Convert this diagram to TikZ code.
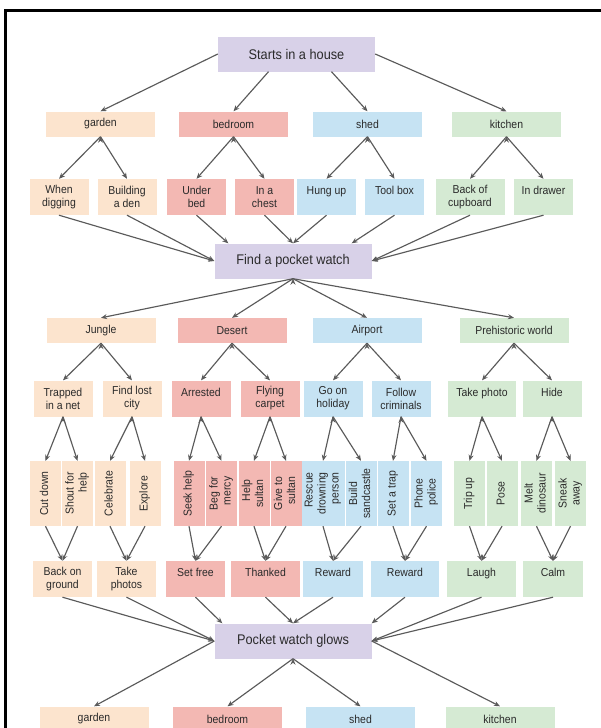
\documentclass[tikz,border=0pt]{standalone}
\usepackage{fontspec}
\setmainfont{Liberation Sans}[FakeStretch=0.91]
\usetikzlibrary{arrows.meta}
\usepackage{xcolor}

\definecolor{lilac}{HTML}{D8D1E8}
\definecolor{peach}{HTML}{FCE4CE}
\definecolor{rose}{HTML}{F3B8B3}
\definecolor{sky}{HTML}{C6E3F3}
\definecolor{mint}{HTML}{D5EAD3}
\definecolor{ink}{HTML}{2A2A2A}
\definecolor{wire}{HTML}{5A5A5A}

\newcommand{\vtext}[2]{\rotatebox{90}{\begin{tabular}{@{}#1@{}}#2\end{tabular}}}

\begin{document}
\begin{tikzpicture}[x=1pt, y=-1pt,
  box/.style={inner sep=2pt, align=center, text=ink, font=\fontsize{11.5}{13}\selectfont},
  big/.style={box, fill=lilac, minimum width=157pt, minimum height=35pt, font=\fontsize{14}{16}\selectfont},
  place/.style={box, minimum width=109pt, minimum height=25pt},
  pair/.style={box, minimum width=59pt, minimum height=36pt},
  turn/.style={box, minimum width=31pt, minimum height=65pt},
  link/.style={draw=wire, line width=1.15pt, -{Stealth[length=6pt,width=5pt]}}]
\useasboundingbox (0,0) rectangle (600,728);
\draw[line width=2.3pt] (5.5,10.5) rectangle (640,760);

\node[big] (house) at (296.5,54) {Starts in a house};
\node[place, fill=peach] (garden) at (100.5,124) {garden};
\node[place, fill=rose] (bedroom) at (233.5,124) {bedroom};
\node[place, fill=sky] (shed) at (367.5,124) {shed};
\node[place, fill=mint] (kitchen) at (506.5,124) {kitchen};

\node[pair, fill=peach] (dig) at (59,197) {When\\digging};
\node[pair, fill=peach] (den) at (127,197) {Building\\a den};
\node[pair, fill=rose] (bed) at (196.5,197) {Under\\bed};
\node[pair, fill=rose] (chest) at (264.5,197) {In a\\chest};
\node[pair, fill=sky] (hung) at (326.5,197) {Hung up\\\phantom{A}};
\node[pair, fill=sky] (tool) at (394.5,197) {Tool box\\\phantom{A}};
\node[pair, fill=mint, minimum width=69pt] (cupboard) at (470,197) {Back of\\cupboard};
\node[pair, fill=mint] (drawer) at (543.5,197) {In drawer\\\phantom{A}};

\node[big] (watch) at (293,261) {Find a pocket watch};
\node[place, fill=peach] (jungle) at (101,330.5) {Jungle};
\node[place, fill=rose] (desert) at (232,330.5) {Desert};
\node[place, fill=sky] (airport) at (367,330.5) {Airport};
\node[place, fill=mint] (prehist) at (514,330.5) {Prehistoric world};

\node[pair, fill=peach] (net) at (63,398.5) {Trapped\\in a net};
\node[pair, fill=peach] (city) at (132,398.5) {Find lost\\city};
\node[pair, fill=rose] (arrest) at (201,398.5) {Arrested\\\phantom{A}};
\node[pair, fill=rose] (carpet) at (270,398.5) {Flying\\carpet};
\node[pair, fill=sky] (holiday) at (333,398.5) {Go on\\holiday};
\node[pair, fill=sky] (follow) at (401,398.5) {Follow\\criminals};
\node[pair, fill=mint, minimum width=68pt] (photo) at (482,398.5) {Take photo\\\phantom{A}};
\node[pair, fill=mint] (hide) at (552,398.5) {Hide\\\phantom{A}};

\node[turn, fill=peach] (cut) at (45.5,493.5) {\vtext{c}{Cut down}};
\node[turn, fill=peach] (shout) at (77.5,493.5) {\vtext{r}{Shout for\\help}};
\node[turn, fill=peach] (celeb) at (110,493.5) {\vtext{c}{Celebrate}};
\node[turn, fill=peach] (explore) at (145,493.5) {\vtext{c}{Explore}};
\node[turn, fill=rose] (seek) at (189,493.5) {\vtext{c}{Seek help}};
\node[turn, fill=rose] (beg) at (221.5,493.5) {\vtext{r}{Beg for\\mercy}};
\node[turn, fill=rose] (help) at (254,493.5) {\vtext{r}{Help\\sultan}};
\node[turn, fill=rose] (give) at (286,493.5) {\vtext{r}{Give to\\sultan}};
\node[turn, fill=sky] (rescue) at (323,493.5) {\vtext{r}{Rescue\\drowning\\person}};
\node[turn, fill=sky] (build) at (361,493.5) {\vtext{c}{Build\\sandcastle}};
\node[turn, fill=sky] (trap) at (393,493.5) {\vtext{c}{Set a trap}};
\node[turn, fill=sky] (phone) at (426.5,493.5) {\vtext{r}{Phone\\police}};
\node[turn, fill=mint] (trip) at (469.5,493.5) {\vtext{c}{Trip up}};
\node[turn, fill=mint] (pose) at (502,493.5) {\vtext{c}{Pose}};
\node[turn, fill=mint] (melt) at (536.5,493.5) {\vtext{c}{Melt\\dinosaur}};
\node[turn, fill=mint] (sneak) at (570.5,493.5) {\vtext{c}{Sneak\\away}};

\node[pair, fill=peach] (ground) at (62.5,579) {Back on\\ground};
\node[pair, fill=peach] (photos) at (126.5,579) {Take\\photos};
\node[pair, fill=rose] (free) at (195.5,579) {Set free\\\phantom{A}};
\node[pair, fill=rose, minimum width=69pt] (thanked) at (265.5,579) {Thanked\\\phantom{A}};
\node[pair, fill=sky, minimum width=60pt] (reward) at (333,579) {Reward\\\phantom{A}};
\node[pair, fill=sky, minimum width=68pt] (rewardb) at (405,579) {Reward\\\phantom{A}};
\node[pair, fill=mint, minimum width=69pt] (laugh) at (481.5,579) {Laugh\\\phantom{A}};
\node[pair, fill=mint, minimum width=60pt] (calm) at (553,579) {Calm\\\phantom{A}};

\node[big] (glows) at (293,641) {Pocket watch glows};
\node[place, fill=peach] (garden2) at (94,719) {garden};
\node[place, fill=rose] (bedroom2) at (227.5,719) {bedroom};
\node[place, fill=sky] (shed2) at (360.5,719) {shed};
\node[place, fill=mint] (kitchen2) at (500,719) {kitchen};

% house to rooms
\draw[link] (house.west) -- (garden.north);
\draw[link] ([xshift=-28pt]house.south) -- (bedroom.north);
\draw[link] ([xshift=35pt]house.south) -- (shed.north);
\draw[link] (house.east) -- (kitchen.north);
\draw[link] (garden.south) edge (dig.north) edge (den.north);
\draw[link] (bedroom.south) edge (bed.north) edge (chest.north);
\draw[link] (shed.south) edge (hung.north) edge (tool.north);
\draw[link] (kitchen.south) edge (cupboard.north) edge (drawer.north);

% hiding places to the watch
\draw[link] (dig.south) -- (watch.west);
\draw[link] (den.south) -- (watch.west);
\draw[link] (bed.south) -- ([xshift=14pt]watch.north west);
\draw[link] (chest.south) -- (watch.north);
\draw[link] (hung.south) -- (watch.north);
\draw[link] (tool.south) -- ([xshift=-20pt]watch.north east);
\draw[link] (cupboard.south) -- (watch.east);
\draw[link] (drawer.south) -- (watch.east);

% places the watch takes you
\draw[link] (watch.south) edge (jungle.north) edge (desert.north) edge (airport.north) edge (prehist.north);
\draw[link] (jungle.south) edge (net.north) edge (city.north);
\draw[link] (desert.south) edge (arrest.north) edge (carpet.north);
\draw[link] (airport.south) edge (holiday.north) edge (follow.north);
\draw[link] (prehist.south) edge (photo.north) edge (hide.north);

\draw[link] (net.south) edge (cut.north) edge (shout.north);
\draw[link] (city.south) edge (celeb.north) edge (explore.north);
\draw[link] (arrest.south) edge (seek.north) edge (beg.north);
\draw[link] (carpet.south) edge (help.north) edge (give.north);
\draw[link] (holiday.south) edge (rescue.north) edge (build.north);
\draw[link] (follow.south) edge (trap.north) edge (phone.north);
\draw[link] (photo.south) edge (trip.north) edge (pose.north);
\draw[link] (hide.south) edge (melt.north) edge (sneak.north);

\draw[link] (cut.south) -- (ground.north);
\draw[link] (shout.south) -- (ground.north);
\draw[link] (celeb.south) -- (photos.north);
\draw[link] (explore.south) -- (photos.north);
\draw[link] (seek.south) -- (free.north);
\draw[link] (beg.south) -- (free.north);
\draw[link] (help.south) -- (thanked.north);
\draw[link] (give.south) -- (thanked.north);
\draw[link] (rescue.south) -- (reward.north);
\draw[link] (build.south) -- (reward.north);
\draw[link] (trap.south) -- (rewardb.north);
\draw[link] (phone.south) -- (rewardb.north);
\draw[link] (trip.south) -- (laugh.north);
\draw[link] (pose.south) -- (laugh.north);
\draw[link] (melt.south) -- (calm.north);
\draw[link] (sneak.south) -- (calm.north);

% endings back to the glowing watch
\draw[link] (ground.south) -- (glows.west);
\draw[link] (photos.south) -- (glows.west);
\draw[link] (free.south) -- ([xshift=8pt]glows.north west);
\draw[link] (thanked.south) -- (glows.north);
\draw[link] (reward.south) -- (glows.north);
\draw[link] (rewardb.south) -- (glows.north east);
\draw[link] (laugh.south) -- (glows.east);
\draw[link] (calm.south) -- (glows.east);

\draw[link] (glows.west) -- (garden2.north);
\draw[link] (glows.south) edge (bedroom2.north) edge (shed2.north);
\draw[link] (glows.east) -- (kitchen2.north);
\end{tikzpicture}
\end{document}
